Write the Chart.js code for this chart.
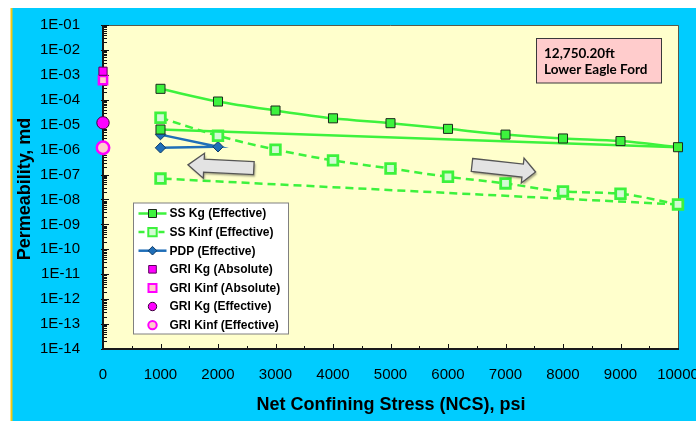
<!DOCTYPE html>
<html><head><meta charset="utf-8">
<script src="https://cdn.jsdelivr.net/npm/chart.js@4"></script>
<style>html,body{margin:0;padding:0;background:#fff;}canvas{display:block}</style>
</head><body>
<canvas id="c" width="696" height="421"></canvas>
<script>
// ---------- data ----------
const stressLoad = [1000, 2000, 3000, 4000, 5000, 6000, 7000, 8000, 9000, 10000];
const ssKgLoad   = [2.75e-4, 8.5e-5, 3.7e-5, 1.8e-5, 1.15e-5, 6.8e-6, 4.0e-6, 2.8e-6, 2.2e-6, 1.25e-6];
const ssKinfLoad = [1.9e-5, 3.6e-6, 1.0e-6, 3.7e-7, 1.75e-7, 8.1e-8, 4.4e-8, 2.1e-8, 1.7e-8, 6.3e-9];
const stressUnload = [10000, 1000];
const ssKgUnload   = [1.25e-6, 6.4e-6];
const ssKinfUnload = [6.3e-9, 6.9e-8];
const pdpStress = [1000, 2000, 1000];
const pdpPerm   = [4.0e-6, 1.3e-6, 1.18e-6];
const griStress = [0];
const griKgAbsolute   = [1.4e-3];
const griKinfAbsolute = [6.1e-4];
const griKgEffective  = [1.19e-5];
const griKinfEffective = [1.18e-6];
const xTicks = [0, 1000, 2000, 3000, 4000, 5000, 6000, 7000, 8000, 9000, 10000];
const yTicks = [1e-14, 1e-13, 1e-12, 1e-11, 1e-10, 1e-9, 1e-8, 1e-7, 1e-6, 1e-5, 1e-4, 1e-3, 1e-2, 1e-1];
const seriesNames = ['SS Kg (Effective)', 'SS Kinf (Effective)', 'PDP (Effective)',
  'GRI Kg (Absolute)', 'GRI Kinf (Absolute)', 'GRI Kg (Effective)', 'GRI Kinf (Effective)'];
const sampleNote = ['12,750.20ft', 'Lower Eagle Ford'];
const xTitle = 'Net Confining Stress (NCS), psi';
const yTitle = 'Permeability, md';

// ---------- styles ----------
const FONT = "'Liberation Sans', Arial, sans-serif";
const GREEN = '#3DF23D', GREEN_EDGE = '#1b2a1b', PALE = '#D4FAD4';
const BLUE = '#1F6EB8', BLUE_EDGE = '#0D3A66';
const MAG = '#FF00FF', PINK = '#FFCCCC';

const pts = (xs, ys) => xs.map((x, i) => ({x: x, y: ys[i]}));
function sciLabel(v) {
  const e = Math.round(Math.log10(v));
  return '1E' + (e < 0 ? '-' : '+') + String(Math.abs(e)).padStart(2, '0');
}

const kgStyle = {pointStyle: 'rect', pointRadius: 6.4, pointBackgroundColor: GREEN, pointBorderColor: GREEN_EDGE, pointBorderWidth: 1};
const kinfStyle = {pointStyle: 'rect', pointRadius: 6.8, pointBackgroundColor: PALE, pointBorderColor: GREEN, pointBorderWidth: 2.8};

const datasets = [
  Object.assign({label: seriesNames[0], data: pts(stressLoad, ssKgLoad), showLine: true, borderColor: GREEN, borderWidth: 2.5, cubicInterpolationMode: 'monotone'}, kgStyle),
  Object.assign({label: seriesNames[0], data: pts(stressUnload, ssKgUnload), showLine: true, borderColor: GREEN, borderWidth: 2.5}, kgStyle, {pointRadius: [0, 6.4]}),
  Object.assign({label: seriesNames[1], data: pts(stressLoad, ssKinfLoad), showLine: true, borderColor: GREEN, borderWidth: 2.5, borderDash: [8, 5], cubicInterpolationMode: 'monotone'}, kinfStyle),
  Object.assign({label: seriesNames[1], data: pts(stressUnload, ssKinfUnload), showLine: true, borderColor: GREEN, borderWidth: 2.5, borderDash: [8, 5]}, kinfStyle, {pointRadius: [0, 6.8]}),
  {label: seriesNames[2], data: pts(pdpStress, pdpPerm), showLine: true, borderColor: BLUE, borderWidth: 2.5,
   pointStyle: 'rectRot', pointRadius: 5.2, pointBackgroundColor: BLUE, pointBorderColor: BLUE_EDGE, pointBorderWidth: 1},
  {label: seriesNames[3], data: pts(griStress, griKgAbsolute), pointStyle: 'rect', pointRadius: 5.8, pointBackgroundColor: MAG, pointBorderColor: '#5a005a', pointBorderWidth: 1},
  {label: seriesNames[4], data: pts(griStress, griKinfAbsolute), pointStyle: 'rect', pointRadius: 5.8, pointBackgroundColor: PINK, pointBorderColor: MAG, pointBorderWidth: 2.5},
  {label: seriesNames[5], data: pts(griStress, griKgEffective), pointStyle: 'circle', pointRadius: 6.2, pointBackgroundColor: MAG, pointBorderColor: '#3a003a', pointBorderWidth: 1},
  {label: seriesNames[6], data: pts(griStress, griKinfEffective), pointStyle: 'circle', pointRadius: 6.2, pointBackgroundColor: PINK, pointBorderColor: MAG, pointBorderWidth: 2.5}
];
datasets.forEach(d => { d.clip = false; });

// legend entries (line + marker) built from the dataset styles
const legendEntries = [
  {label: seriesNames[0], line: {color: GREEN, dash: []}, marker: {shape: 'rect', r: 4, fill: GREEN, stroke: GREEN_EDGE, w: 1}},
  {label: seriesNames[1], line: {color: GREEN, dash: [6, 4]}, marker: {shape: 'rect', r: 4.2, fill: PALE, stroke: GREEN, w: 2}},
  {label: seriesNames[2], line: {color: BLUE, dash: []}, marker: {shape: 'diamond', r: 4.3, fill: BLUE, stroke: BLUE_EDGE, w: 1}},
  {label: seriesNames[3], line: null, marker: {shape: 'rect', r: 3.8, fill: MAG, stroke: '#5a005a', w: 1}},
  {label: seriesNames[4], line: null, marker: {shape: 'rect', r: 4, fill: PINK, stroke: MAG, w: 2}},
  {label: seriesNames[5], line: null, marker: {shape: 'circle', r: 4.2, fill: MAG, stroke: '#3a003a', w: 1}},
  {label: seriesNames[6], line: null, marker: {shape: 'circle', r: 4.2, fill: PINK, stroke: MAG, w: 2}}
];

// decorative arrows anchored in data space
const arrowNotes = [
  {x: 2050, y: 2.1e-7, dir: -1, len: 66, head: 16, angle: 0.05},
  {x: 6970, y: 1.75e-7, dir: 1, len: 64, head: 13, angle: 0.11}
];

function drawMarker(ctx, m, x, y) {
  ctx.save();
  ctx.fillStyle = m.fill; ctx.strokeStyle = m.stroke; ctx.lineWidth = m.w;
  ctx.beginPath();
  if (m.shape === 'rect') ctx.rect(x - m.r, y - m.r, 2 * m.r, 2 * m.r);
  else if (m.shape === 'diamond') { ctx.moveTo(x, y - m.r); ctx.lineTo(x + m.r, y); ctx.lineTo(x, y + m.r); ctx.lineTo(x - m.r, y); ctx.closePath(); }
  else ctx.arc(x, y, m.r, 0, Math.PI * 2);
  ctx.fill(); ctx.stroke();
  ctx.restore();
}

const framePlugin = {
  id: 'frame',
  beforeDraw(chart) {
    const ctx = chart.ctx, a = chart.chartArea;
    ctx.save();
    ctx.fillStyle = '#ffffff'; ctx.fillRect(0, 0, chart.width, chart.height);
    ctx.fillStyle = '#00CCFF'; ctx.fillRect(12, 8, chart.width - 12, chart.height - 8);
    ctx.fillStyle = '#F2C811'; ctx.fillRect(10.5, 8, 2, chart.height - 8);
    ctx.fillStyle = '#FFFFCC'; ctx.fillRect(a.left, a.top, a.right - a.left, a.bottom - a.top);
    ctx.restore();
  },
  beforeDatasetsDraw(chart) {
    const ctx = chart.ctx, a = chart.chartArea, xs = chart.scales.x, ys = chart.scales.y;
    ctx.save();
    // top / right border
    ctx.strokeStyle = '#5a5a4a'; ctx.lineWidth = 1;
    ctx.beginPath(); ctx.moveTo(a.left, a.top + 0.5); ctx.lineTo(a.right + 0.5, a.top + 0.5); ctx.lineTo(a.right + 0.5, a.bottom); ctx.stroke();
    ctx.strokeStyle = '#111'; ctx.lineWidth = 1;
    // y ticks
    ctx.beginPath();
    for (let e = -14; e <= -1; e++) {
      const yp = Math.round(ys.getPixelForValue(Math.pow(10, e))) + 0.5;
      ctx.moveTo(a.left - 2, yp); ctx.lineTo(a.left + 6, yp);
      if (e < -1) for (let m = 2; m <= 9; m++) {
        const yy = Math.round(ys.getPixelForValue(m * Math.pow(10, e))) + 0.5;
        ctx.moveTo(a.left, yy); ctx.lineTo(a.left + 4, yy);
      }
    }
    // x ticks
    for (let v = 500; v < 10000; v += 500) {
      const xp = Math.round(xs.getPixelForValue(v)) + 0.5;
      ctx.moveTo(xp, a.bottom); ctx.lineTo(xp, a.bottom - (v % 1000 === 0 ? 5 : 3));
    }
    ctx.stroke();
    // axes lines
    ctx.strokeStyle = '#1a1a1a'; ctx.lineWidth = 2;
    ctx.beginPath(); ctx.moveTo(a.left, a.top); ctx.lineTo(a.left, a.bottom); ctx.lineTo(a.right + 1, a.bottom); ctx.stroke();
    ctx.restore();
  },
  afterDraw(chart) {
    const ctx = chart.ctx, a = chart.chartArea, xs = chart.scales.x, ys = chart.scales.y;
    ctx.save();
    // arrows
    arrowNotes.forEach(n => {
      const cx = xs.getPixelForValue(n.x), cy = ys.getPixelForValue(n.y);
      const L = n.len, hl = n.head, bh = 6.5, hh = 12.5;
      ctx.save();
      ctx.translate(cx, cy); ctx.rotate(n.angle); if (n.dir < 0) ctx.scale(-1, 1);
      ctx.beginPath();
      ctx.moveTo(-L / 2, -bh); ctx.lineTo(L / 2 - hl, -bh); ctx.lineTo(L / 2 - hl, -hh);
      ctx.lineTo(L / 2, 0); ctx.lineTo(L / 2 - hl, hh); ctx.lineTo(L / 2 - hl, bh); ctx.lineTo(-L / 2, bh);
      ctx.closePath();
      ctx.shadowColor = 'rgba(0,0,0,0.35)'; ctx.shadowOffsetX = 1.5; ctx.shadowOffsetY = 2; ctx.shadowBlur = 2;
      ctx.fillStyle = '#E3E3E3'; ctx.fill();
      ctx.shadowColor = 'transparent';
      ctx.strokeStyle = '#555'; ctx.lineWidth = 1.3; ctx.stroke();
      ctx.restore();
    });
    // note box
    const bx = a.right - 141.5, by = a.top + 13.5;
    ctx.fillStyle = PINK; ctx.fillRect(bx, by, 125, 44.5);
    ctx.strokeStyle = '#3a3a3a'; ctx.lineWidth = 1; ctx.strokeRect(bx, by, 125, 44.5);
    ctx.fillStyle = '#000'; ctx.font = "bold 13.5px Lato, 'Liberation Sans', sans-serif"; ctx.textBaseline = 'middle'; ctx.textAlign = 'left';
    ctx.fillText(sampleNote[0], bx + 7.5, by + 15);
    ctx.fillText(sampleNote[1], bx + 7.5, by + 31);
    // legend
    const lx = a.left + 30.5, ly = a.top + 178, lw = 155, lh = 131;
    ctx.fillStyle = '#fff'; ctx.fillRect(lx, ly, lw, lh);
    ctx.strokeStyle = '#808080'; ctx.lineWidth = 1; ctx.strokeRect(lx, ly, lw, lh);
    ctx.font = 'bold 12px ' + FONT; ctx.textBaseline = 'middle'; ctx.textAlign = 'left';
    legendEntries.forEach((it, i) => {
      const yy = ly + 10.5 + i * 18.6, mx = lx + 19;
      if (it.line) {
        ctx.save(); ctx.strokeStyle = it.line.color; ctx.lineWidth = 2.5; ctx.setLineDash(it.line.dash);
        ctx.beginPath(); ctx.moveTo(lx + 5, yy); ctx.lineTo(lx + 33, yy); ctx.stroke(); ctx.restore();
      }
      drawMarker(ctx, it.marker, mx, yy);
      ctx.fillStyle = '#000'; ctx.fillText(it.label, lx + 36, yy + 0.5);
    });
    // axis titles
    ctx.fillStyle = '#000'; ctx.font = 'bold 18px ' + FONT; ctx.textAlign = 'center'; ctx.textBaseline = 'middle';
    ctx.fillText(xTitle, 391, 405);
    ctx.save(); ctx.translate(25, 189); ctx.rotate(-Math.PI / 2); ctx.fillText(yTitle, 0, 0); ctx.restore();
    ctx.restore();
  }
};

new Chart(document.getElementById('c'), {
  type: 'scatter',
  data: {datasets: datasets},
  plugins: [framePlugin],
  options: {
    responsive: false, animation: false, devicePixelRatio: 1,
    layout: {padding: {top: 25, right: 18, left: 0, bottom: 0}},
    plugins: {legend: {display: false}, tooltip: {enabled: false}},
    elements: {line: {tension: 0}},
    scales: {
      x: {
        type: 'linear', min: 0, max: 10000,
        grid: {display: false}, border: {display: false},
        ticks: {font: {family: FONT, size: 15}, color: '#000', padding: 9, maxRotation: 0, autoSkip: false, callback: v => String(v)},
        afterBuildTicks: s => { s.ticks = xTicks.map(v => ({value: v})); },
        afterFit: s => { s.height = 72; s.paddingLeft = 0; s.paddingRight = 0; }
      },
      y: {
        type: 'logarithmic', min: 1e-14, max: 1e-1,
        grid: {display: false}, border: {display: false},
        ticks: {font: {family: FONT, size: 15}, color: '#000', padding: 15, autoSkip: false, callback: v => sciLabel(v)},
        afterBuildTicks: s => { s.ticks = yTicks.map(v => ({value: v})); },
        afterFit: s => { s.width = 103; s.paddingTop = 0; s.paddingBottom = 0; }
      }
    }
  }
});
</script>
</body></html>
